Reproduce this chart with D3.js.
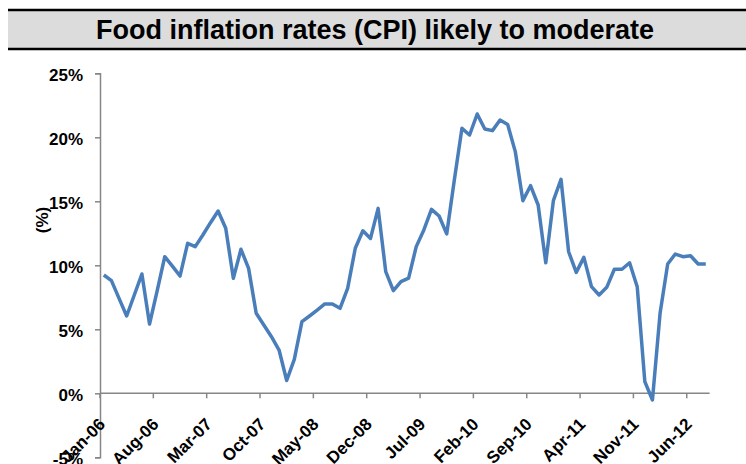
<!DOCTYPE html>
<html>
<head>
<meta charset="utf-8">
<script src="https://cdn.jsdelivr.net/npm/d3@7"></script>
<style>
  html, body { margin: 0; padding: 0; background: #fff; }
  svg { display: block; font-family: "Liberation Sans", Arial, sans-serif; }
</style>
</head>
<body>
<svg id="chart" width="746" height="464"></svg>
<script>
// Monthly food CPI inflation, Jan-06 .. Aug-12 (%)
const startMonth = [2006, 0];
const foodInflation = [
  9.24, 8.8, 7.42, 6.04, 7.68, 9.32, 5.41, 8.0, 10.67, 9.94, 9.16, 11.72,
  11.46, 12.37, 13.33, 14.24, 12.89, 8.98, 11.25, 9.76, 6.25, 5.34, 4.42, 3.38,
  1.0, 2.65, 5.6, 6.04, 6.5, 6.98, 6.98, 6.64, 8.2, 11.33, 12.7, 12.1,
  14.45, 9.5, 8.02, 8.72, 9.0, 11.46, 12.76, 14.37, 13.85, 12.45, 16.66, 20.7,
  20.18, 21.82, 20.65, 20.52, 21.35, 21.0, 18.88, 15.05, 16.22, 14.71, 10.2, 15.05,
  16.72, 11.06, 9.45, 10.62, 8.33, 7.68, 8.28, 9.69, 9.69, 10.2, 8.33, 0.91,
  -0.52, 6.25, 10.1, 10.88, 10.67, 10.75, 10.1, 10.1
];
const yTicks = [-5, 0, 5, 10, 15, 20, 25];
const labelEvery = 7;
const titleText = "Food inflation rates (CPI) likely to moderate";
const yAxisTitle = "(%)";

const monthNames = ["Jan","Feb","Mar","Apr","May","Jun","Jul","Aug","Sep","Oct","Nov","Dec"];
const months = foodInflation.map((_, i) => {
  const m = startMonth[1] + i;
  const y = startMonth[0] + Math.floor(m / 12);
  return monthNames[m % 12] + "-" + String(y).slice(2);
});

const svg = d3.select("#chart");

// Title band
const title = svg.append("g");
title.append("rect").attr("x", 8).attr("y", 10).attr("width", 746).attr("height", 39).attr("fill", "#dcdcdc");
title.append("line").attr("x1", 8).attr("x2", 746).attr("y1", 10).attr("y2", 10).attr("stroke", "#000").attr("stroke-width", 2.5);
title.append("line").attr("x1", 8).attr("x2", 746).attr("y1", 49).attr("y2", 49).attr("stroke", "#000").attr("stroke-width", 2.5);
title.append("text").attr("x", 375).attr("y", 39).attr("text-anchor", "middle")
  .attr("font-size", 27).attr("font-weight", "bold").attr("fill", "#000").text(titleText);

const x = d3.scaleBand().domain(months).range([100, 709.6]).padding(0);
const y = d3.scaleLinear().domain([-5, 25]).range([457.3, 73.3]);
const axisColor = "#868686";

// Y axis
const yAxis = svg.append("g").attr("transform", "translate(100,0)")
  .call(d3.axisLeft(y).tickValues(yTicks).tickSize(5).tickPadding(12).tickFormat(d => d + "%"));
yAxis.select(".domain").attr("stroke", axisColor).attr("stroke-width", 1.5);
yAxis.selectAll(".tick line").attr("stroke", axisColor).attr("stroke-width", 1.5);
yAxis.selectAll(".tick text").attr("font-size", 17).attr("font-weight", "bold").attr("fill", "#000")
  .attr("dy", "0.4em").attr("font-family", "Liberation Sans, Arial, sans-serif");

svg.append("text").attr("transform", "translate(48,220) rotate(-90)").attr("text-anchor", "middle")
  .attr("font-size", 17).attr("font-weight", "bold").text(yAxisTitle);

// X axis at 0%
const tickMonths = months.filter((_, i) => i % labelEvery === 0);
const xAxis = svg.append("g").attr("transform", `translate(0,${y(0)})`);
xAxis.append("line").attr("x1", 100).attr("x2", x.range()[1]).attr("y1", 0).attr("y2", 0)
  .attr("stroke", axisColor).attr("stroke-width", 1.5);
xAxis.selectAll("line.tick").data(tickMonths).join("line").attr("class", "tick")
  .attr("x1", d => x(d)).attr("x2", d => x(d)).attr("y1", 0).attr("y2", 5)
  .attr("stroke", axisColor).attr("stroke-width", 1.5);
xAxis.selectAll("text").data(tickMonths).join("text")
  .attr("transform", d => `translate(${x(d) + x.bandwidth() / 2 + 2.5},32) rotate(-45)`)
  .attr("text-anchor", "end")
  .attr("font-size", 17).attr("font-weight", "bold").attr("fill", "#000").text(d => d);

// Series line
const line = d3.line().x((d, i) => x(months[i]) + x.bandwidth() / 2).y(d => y(d));
svg.append("path").datum(foodInflation).attr("d", line).attr("fill", "none")
  .attr("stroke", "#4a7ebb").attr("stroke-width", 3.5).attr("stroke-linejoin", "round");
</script>
</body>
</html>
